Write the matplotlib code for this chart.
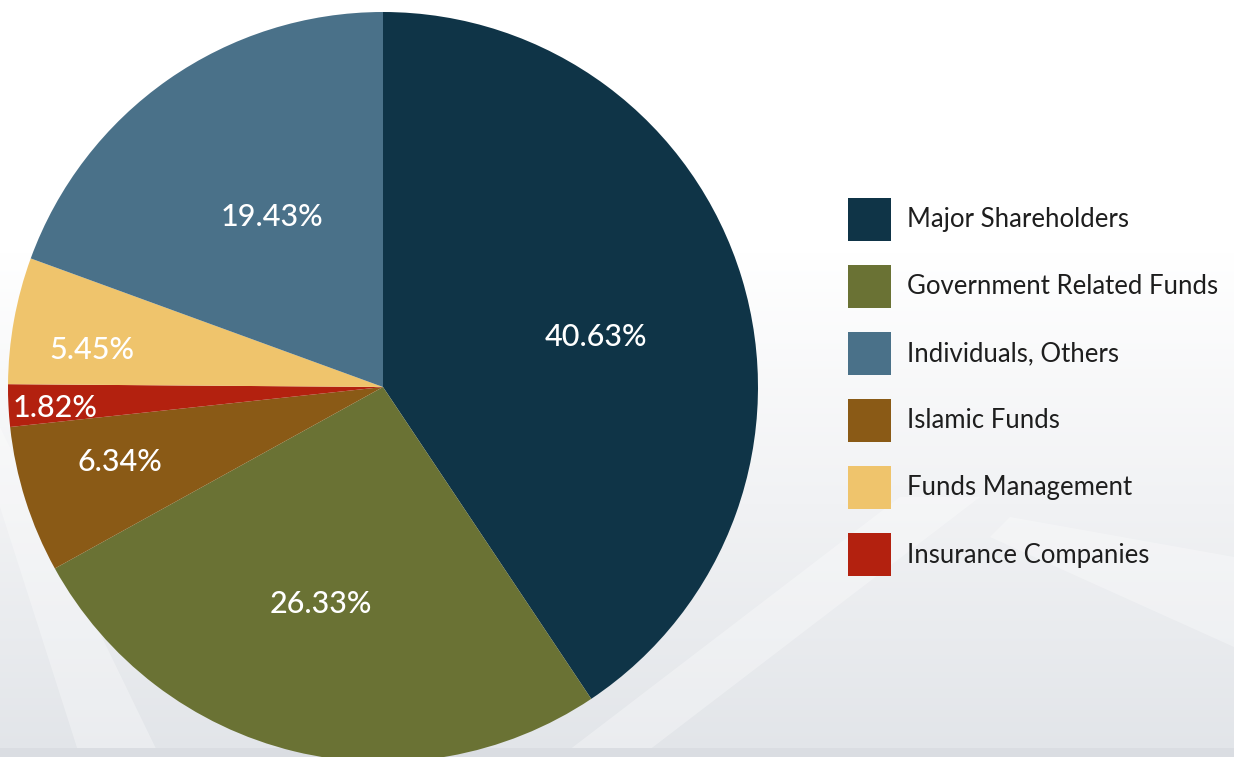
import matplotlib
matplotlib.use("Agg")
import numpy as np
import matplotlib.pyplot as plt
from matplotlib.patches import Rectangle, Polygon
from matplotlib.colors import LinearSegmentedColormap

# shareholding breakdown, clockwise from 12 o'clock
groups = ["Major Shareholders", "Government Related Funds", "Islamic Funds",
          "Insurance Companies", "Funds Management", "Individuals, Others"]
shares = [40.63, 26.33, 6.34, 1.82, 5.45, 19.43]
colors = ["#0f3447", "#6a7234", "#8a5a16", "#b3210f", "#efc46c", "#4a7189"]

# legend order as printed beside the chart
legend_order = ["Major Shareholders", "Government Related Funds", "Individuals, Others",
                "Islamic Funds", "Funds Management", "Insurance Companies"]

W, H = 1234, 757
fig = plt.figure(figsize=(W / 100, H / 100), dpi=100)
ax = fig.add_axes([0, 0, 1, 1])
fig.patch.set_facecolor("white")

# backdrop: white at the top fading to pale grey towards the bottom
grad = LinearSegmentedColormap.from_list("bg", ["#ffffff", "#ffffff", "#f1f2f4", "#e2e5e9"])
ax.imshow(np.linspace(0, 1, 256).reshape(-1, 1), cmap=grad, aspect="auto",
          extent=(0, W, 0, H), zorder=0)
# faint lighter diagonal bands
ax.add_patch(Polygon([(560, 0), (640, 0), (980, 260), (900, 260)], color="white", alpha=0.3, lw=0, zorder=0.5))
ax.add_patch(Polygon([(1234, 110), (1234, 200), (1010, 240), (990, 220)], color="white", alpha=0.3, lw=0, zorder=0.5))
ax.add_patch(Polygon([(0, 250), (0, 330), (160, 0), (80, 0)], color="white", alpha=0.3, lw=0, zorder=0.5))
ax.add_patch(Rectangle((0, 0), W, 9, color="#dadde2", lw=0, zorder=0.6))

cx, cy, r = 383, H - 387, 375
wedges, _ = ax.pie(shares, colors=colors, startangle=90, counterclock=False,
                   center=(cx, cy), radius=r, frame=True,
                   wedgeprops=dict(linewidth=0, zorder=2))
ax.set_xlim(0, W)
ax.set_ylim(0, H)
ax.set_aspect("equal")
ax.axis("off")

# value labels (pixel positions from the left/top of the figure)
label_pos = {
    "Major Shareholders": (596, 337),
    "Government Related Funds": (321, 604),
    "Islamic Funds": (120, 462),
    "Insurance Companies": (55, 408),
    "Funds Management": (92, 350),
    "Individuals, Others": (272, 217),
}
for g, v in zip(groups, shares):
    x, y = label_pos[g]
    ax.text(x, H - y, f"{v:.2f}%", color="white", fontsize=22, family="Lato",
            fontweight="medium", ha="center", va="center", zorder=3)

# legend
col = dict(zip(groups, colors))
for i, g in enumerate(legend_order):
    yc = H - (220 + i * 67)
    ax.add_patch(Rectangle((848, yc - 21), 43, 43, color=col[g], lw=0, zorder=2))
    ax.text(907, yc, g, color="#1e1e1e", fontsize=18.5, family="Lato",
            va="center", ha="left", zorder=3)

fig.savefig("out.png", dpi=100)
